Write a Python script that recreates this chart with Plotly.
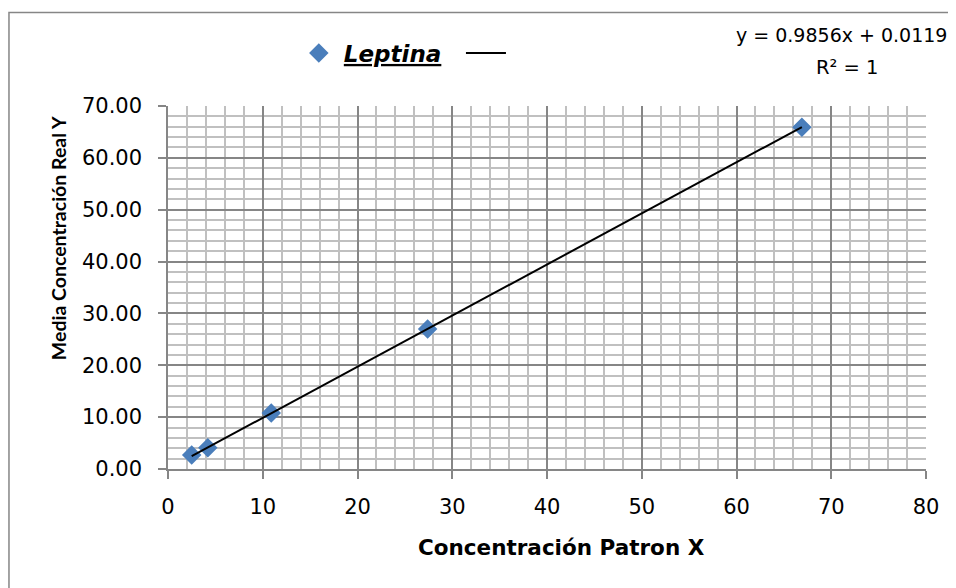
import plotly.graph_objects as go


# ==========================================
# DATA
# ==========================================

patron_x = [2.5, 4.2, 10.9, 27.4, 66.9]
real_y = [2.7, 4.1, 10.8, 27.0, 65.9]

trend_slope = 0.9856
trend_intercept = 0.0119

x_ticks = [0, 10, 20, 30, 40, 50, 60, 70, 80]
y_ticks = [0, 10, 20, 30, 40, 50, 60, 70]

serie_name = "Leptina"
x_title = "Concentración Patron X"
y_title = "Media Concentración Real Y"
equation_line = "y = 0.9856x + 0.0119"
r2_line = "R² = 1"


# ==========================================
# TRENDLINE ENDS
# ==========================================

trend_x = [min(patron_x), max(patron_x)]
trend_y = [trend_slope * v + trend_intercept for v in trend_x]


# ==========================================
# FIGURE
# ==========================================

WIDE = "'DejaVu Sans', sans-serif"
NARROW = "Lato, sans-serif"
MAJOR = "#868686"
MINOR = "#c0c0c0"

fig = go.Figure()

fig.add_trace(

    go.Scatter(
        x=patron_x,
        y=real_y,
        mode="markers",
        name=f"<b><i><u>{serie_name}</u></i></b>&nbsp;&nbsp;",
        marker=dict(
            symbol="diamond",
            size=15,
            color="#4a7ebb"
        )
    )
)

fig.add_trace(

    go.Scatter(
        x=trend_x,
        y=trend_y,
        mode="lines",
        name=" ",
        line=dict(color="black", width=2)
    )
)

# the page adds an 8px body margin, so the figure is 8px smaller
fig.update_layout(

    width=948,
    height=580,

    margin=dict(l=160, r=30, t=98, b=119, autoexpand=False),

    plot_bgcolor="white",
    paper_bgcolor="white",

    font=dict(family=WIDE, size=21, color="black"),

    showlegend=True,

    legend=dict(
        orientation="h",
        x=0.166,
        y=1.146,
        xanchor="left",
        yanchor="middle",
        font=dict(size=23),
        itemwidth=40,
        bgcolor="rgba(0,0,0,0)"
    )
)

fig.update_xaxes(

    range=[0, 80],
    tickvals=x_ticks,
    showgrid=True,
    gridcolor=MAJOR,
    gridwidth=1.5,
    minor=dict(
        dtick=2,
        showgrid=True,
        gridcolor=MINOR,
        gridwidth=1.8
    ),
    showline=True,
    linecolor=MAJOR,
    linewidth=1.5,
    ticks="outside",
    ticklen=8,
    tickwidth=1.5,
    tickcolor=MAJOR,
    ticklabelstandoff=10,
    zeroline=False,
    automargin=False
)

fig.update_yaxes(

    range=[0, 70],
    tickvals=y_ticks,
    tickformat=".2f",
    showgrid=True,
    gridcolor=MAJOR,
    gridwidth=1.5,
    minor=dict(
        dtick=2,
        showgrid=True,
        gridcolor=MINOR,
        gridwidth=1.8
    ),
    showline=True,
    linecolor=MAJOR,
    linewidth=1.5,
    ticks="outside",
    ticklen=8,
    tickwidth=1.5,
    tickcolor=MAJOR,
    ticklabelstandoff=12,
    zeroline=False,
    automargin=False
)

# axis titles
fig.add_annotation(
    text=f"<b>{x_title}</b>",
    xref="paper",
    yref="paper",
    x=0.5185,
    y=-0.2176,
    xanchor="center",
    yanchor="middle",
    showarrow=False,
    font=dict(size=21.5)
)

fig.add_annotation(
    text=f"<b>{y_title}</b>",
    xref="paper",
    yref="paper",
    x=-0.1451,
    y=0.636,
    textangle=-90,
    xanchor="center",
    yanchor="middle",
    showarrow=False,
    font=dict(family=NARROW, size=19.5)
)

# equation label
fig.add_annotation(
    text=equation_line,
    xref="paper",
    yref="paper",
    x=0.7467,
    y=1.1956,
    xanchor="left",
    yanchor="middle",
    showarrow=False,
    font=dict(size=19)
)

fig.add_annotation(
    text=r2_line,
    xref="paper",
    yref="paper",
    x=0.897,
    y=1.1074,
    xanchor="center",
    yanchor="middle",
    showarrow=False,
    font=dict(size=19.5)
)

# outer chart border
fig.add_shape(
    type="rect",
    xref="paper",
    yref="paper",
    x0=-0.2098,
    x1=1.08,
    y0=-0.4,
    y1=1.2576,
    line=dict(color=MAJOR, width=1.5),
    layer="below"
)

fig.write_html("out.html")
